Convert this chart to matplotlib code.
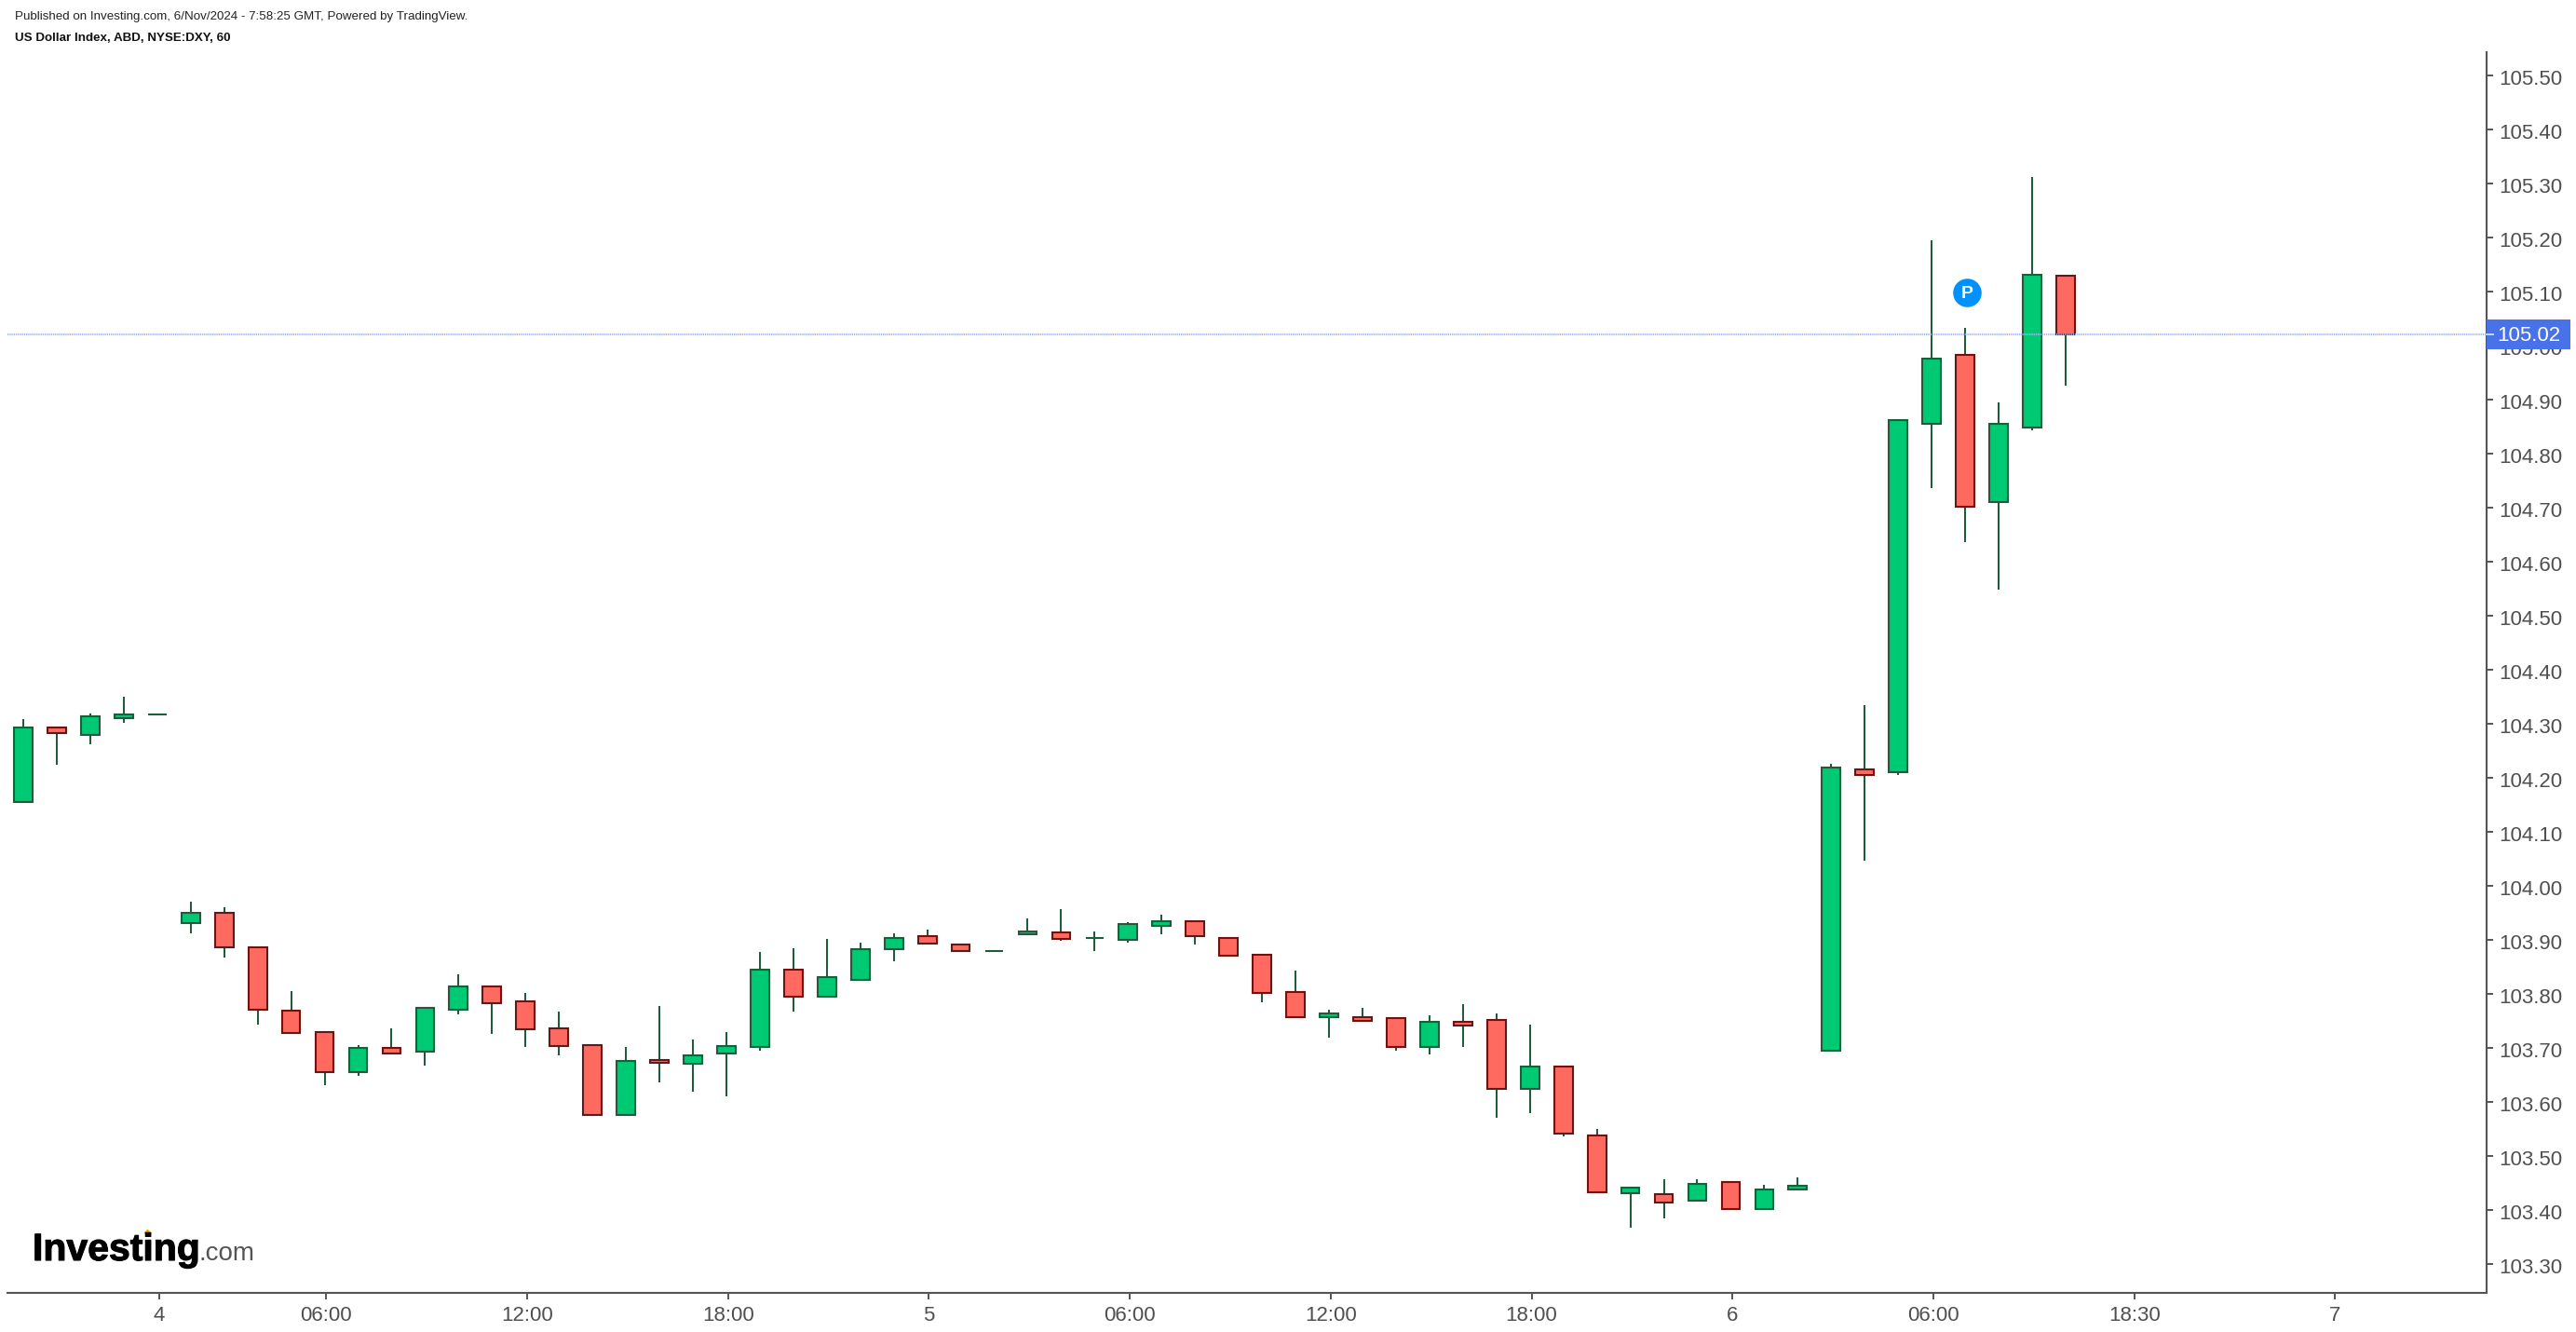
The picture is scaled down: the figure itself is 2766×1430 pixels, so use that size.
import matplotlib
matplotlib.use("Agg")
import matplotlib.pyplot as plt
from matplotlib.lines import Line2D
from matplotlib.patches import Rectangle
from matplotlib.transforms import ScaledTranslation, blended_transform_factory
import matplotlib.patheffects as pe
import numpy as np

plt.rcParams["font.family"] = ["Liberation Sans", "DejaVu Sans"]

W, H = 2766, 1430

# hourly candles
opens = [104.154, 104.293, 104.278, 104.309, 104.317, 103.930, 103.949, 103.886, 103.769, 103.728,
         103.654, 103.700, 103.692, 103.771, 103.814, 103.786, 103.735, 103.704, 103.575, 103.677,
         103.671, 103.689, 103.702, 103.845, 103.795, 103.826, 103.882, 103.907, 103.890, 103.879,
         103.909, 103.914, 103.903, 103.899, 103.926, 103.934, 103.903, 103.872, 103.803, 103.757,
         103.756, 103.755, 103.702, 103.748, 103.752, 103.623, 103.665, 103.538, 103.430, 103.428,
         103.416, 103.452, 103.402, 103.437, 103.695, 104.215, 104.210, 104.854, 104.983, 104.709,
         104.847, 105.128]
highs = [104.308, 104.293, 104.319, 104.350, 104.317, 103.970, 103.960, 103.886, 103.805, 103.728,
         103.705, 103.736, 103.773, 103.836, 103.814, 103.801, 103.767, 103.704, 103.701, 103.777,
         103.715, 103.729, 103.877, 103.884, 103.901, 103.894, 103.911, 103.918, 103.890, 103.879,
         103.939, 103.956, 103.915, 103.932, 103.946, 103.934, 103.903, 103.872, 103.842, 103.770,
         103.774, 103.755, 103.760, 103.780, 103.763, 103.743, 103.665, 103.549, 103.441, 103.456,
         103.456, 103.452, 103.446, 103.460, 104.225, 104.334, 104.862, 105.194, 105.032, 104.894,
         105.312, 105.128]
lows = [104.154, 104.223, 104.261, 104.302, 104.317, 103.912, 103.867, 103.743, 103.727, 103.630,
        103.647, 103.689, 103.667, 103.761, 103.726, 103.702, 103.685, 103.575, 103.575, 103.636,
        103.619, 103.609, 103.695, 103.767, 103.795, 103.826, 103.860, 103.892, 103.878, 103.879,
        103.909, 103.898, 103.878, 103.895, 103.909, 103.891, 103.871, 103.784, 103.757, 103.719,
        103.747, 103.695, 103.688, 103.702, 103.571, 103.578, 103.536, 103.433, 103.367, 103.384,
        103.416, 103.402, 103.402, 103.437, 103.695, 104.046, 104.205, 104.736, 104.636, 104.547,
        104.843, 104.926]
closes = [104.293, 104.282, 104.314, 104.317, 104.317, 103.949, 103.885, 103.771, 103.727, 103.654,
          103.700, 103.689, 103.773, 103.814, 103.782, 103.734, 103.703, 103.575, 103.676, 103.672,
          103.686, 103.703, 103.845, 103.795, 103.831, 103.883, 103.903, 103.892, 103.878, 103.879,
          103.915, 103.902, 103.903, 103.928, 103.934, 103.906, 103.871, 103.802, 103.757, 103.763,
          103.750, 103.702, 103.748, 103.740, 103.623, 103.665, 103.540, 103.433, 103.441, 103.413,
          103.448, 103.402, 103.438, 103.445, 104.219, 104.205, 104.862, 104.976, 104.702, 104.855,
          105.131, 105.020]

y_ticks = [103.30, 103.40, 103.50, 103.60, 103.70, 103.80, 103.90, 104.00, 104.10, 104.20, 104.30, 104.40,
           104.50, 104.60, 104.70, 104.80, 104.90, 105.00, 105.10, 105.20, 105.30, 105.40, 105.50]
x_tick_bars = [4, 9, 15, 21, 27, 33, 39, 45, 51, 57, 63, 69]
x_tick_labels = ["4", "06:00", "12:00", "18:00", "5", "06:00", "12:00", "18:00", "6", "06:00", "18:30", "7"]
last_price = 105.02

UP = "#00c974"
UP_EDGE = "#1f5c3c"
DOWN = "#ff6a60"
DOWN_EDGE = "#6b1414"
AXIS = "#555555"
TEXT = "#4f4f4f"

fig = plt.figure(figsize=(W / 100, H / 100), dpi=100, facecolor="white")
ax = fig.add_axes([8 / W, 1 - 1388 / H, (2670 - 8) / W, (1388 - 56) / H])

opens, highs, lows, closes = map(np.array, (opens, highs, lows, closes))
x = np.arange(len(opens))
up = closes >= opens
bottoms = np.minimum(opens, closes)
heights = np.abs(closes - opens)

ax.vlines(x, lows, highs, color=UP_EDGE, linewidth=1.45, zorder=2)
ax.bar(x[up], heights[up], 0.55, bottoms[up], color=UP, edgecolor=UP_EDGE, linewidth=1.5, zorder=3)
ax.bar(x[~up], heights[~up], 0.55, bottoms[~up], color=DOWN, edgecolor=DOWN_EDGE, linewidth=1.5, zorder=3)

ax.axhline(last_price, color="#a3b4f4", linewidth=1.6, linestyle=(0, (0.6, 0.4)), alpha=0.9, zorder=4)

ax.set_xlim(-0.473, 73.575)
ax.set_ylim(103.246, 105.5426)
ax.spines["top"].set_visible(False)
ax.spines["left"].set_visible(False)
for side in ("right", "bottom"):
    ax.spines[side].set_color(AXIS)
    ax.spines[side].set_linewidth(1.5)

ax.yaxis.tick_right()
ax.set_yticks(y_ticks)
ax.set_yticklabels([f"{v:.2f}" for v in y_ticks])
ax.set_xticks(np.array(x_tick_bars) + 0.05)
ax.set_xticklabels(x_tick_labels)
ax.tick_params(axis="y", length=4.8, width=1.4, color=AXIS, labelcolor=TEXT, labelsize=16, pad=5)
ax.tick_params(axis="x", length=4.8, width=1.4, color=AXIS, labelcolor=TEXT, labelsize=16, pad=5)

# labels sit a little under their ticks in the original
nudge = ScaledTranslation(0, -2.5 / 100, fig.dpi_scale_trans)
for label in ax.get_yticklabels():
    label.set_transform(label.get_transform() + nudge)

# last price tag on the axis
tag = blended_transform_factory(ax.transAxes, ax.transData)
ax.add_patch(Rectangle((1.0, last_price - 0.0275), 0.0338, 0.055, transform=tag, facecolor="#4a72e8",
                       edgecolor="none", clip_on=False, zorder=6))
ax.add_line(Line2D([1.0, 1.0025], [last_price, last_price], transform=tag, color="#c9d4f7", linewidth=1.4,
                   clip_on=False, zorder=7))
ax.text(1.0172, last_price - 0.0025, f"{last_price:.2f}", transform=tag, color="white", fontsize=16,
        ha="center", va="center", zorder=7)

# publication note on bar 58
ax.plot([58.05], [105.097], marker="o", markersize=22, color="#0091ff", markeredgecolor="none", zorder=5)
ax.text(58.05, 105.096, "P", color="white", fontsize=14, fontweight="bold", ha="center", va="center", zorder=6)

# header
fig.text(16 / W, 1 - 17.5 / H, "Published on Investing.com, 6/Nov/2024 - 7:58:25 GMT, Powered by TradingView.",
         fontsize=9.6, color="#222222", va="center")
fig.text(16 / W, 1 - 40.5 / H, "US Dollar Index, ABD, NYSE:DXY, 60", fontsize=9.6, fontweight="bold",
         color="#111111", va="center")

# watermark
fig.text(35 / W, 1 - 1353 / H, "Investing", fontsize=29.5, fontweight="bold", color="black", va="baseline",
         path_effects=[pe.withStroke(linewidth=0.8, foreground="black")])
fig.text(214 / W, 1 - 1353 / H, ".com", fontsize=20, color="#555555", va="baseline")
fig.add_artist(Line2D([158 / W], [1 - 1323 / H], marker="D", markersize=4.5, color="#f7a600",
                      markeredgecolor="none", transform=fig.transFigure))

fig.savefig("out.png", dpi=100)
